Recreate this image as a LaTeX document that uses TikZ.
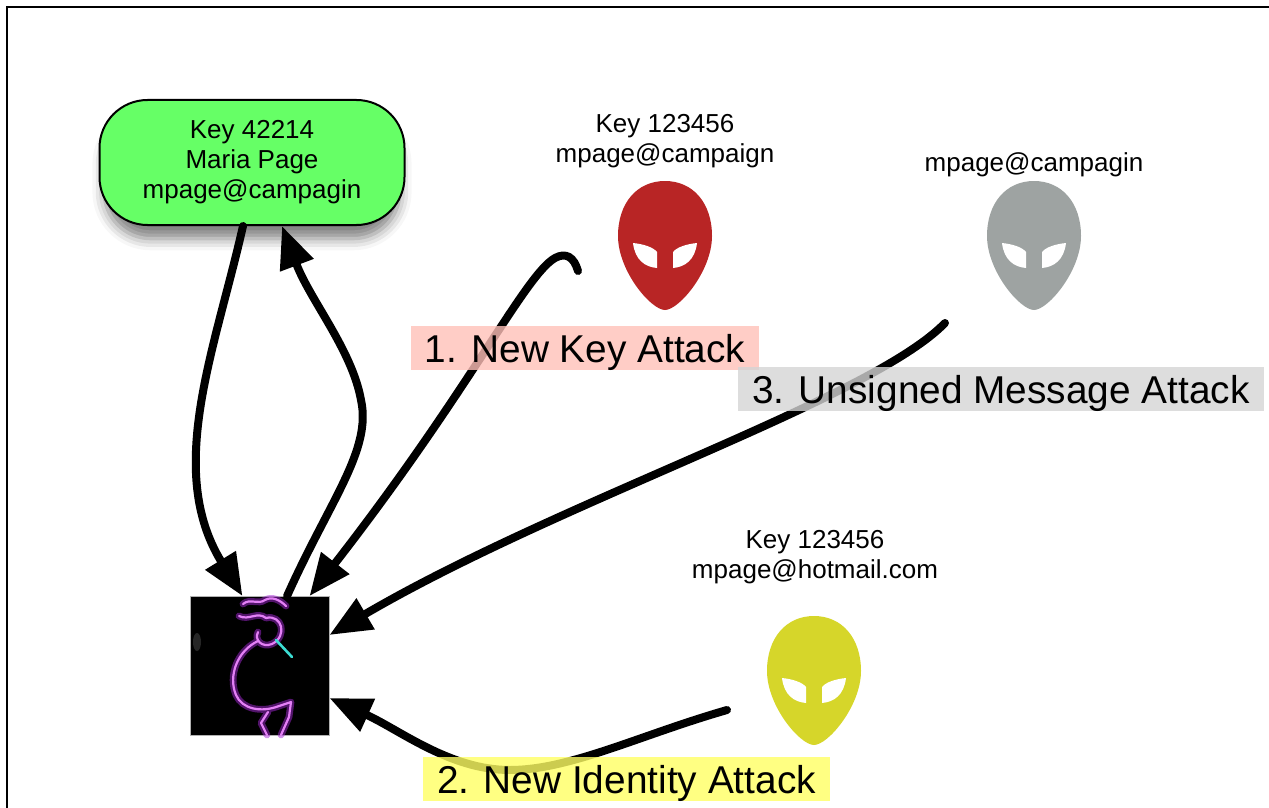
\documentclass[tikz,border=0pt]{standalone}
\usepackage{fontspec}
\setmainfont{Liberation Sans}
\usetikzlibrary{arrows.meta, shadows.blur}

\definecolor{keygreen}{RGB}{102,255,102}
\definecolor{alienred}{RGB}{184,37,37}
\definecolor{aliengrey}{RGB}{158,163,162}
\definecolor{alienyellow}{RGB}{214,214,42}
\definecolor{tagpink}{RGB}{255,192,184}
\definecolor{taggrey}{RGB}{212,212,212}
\definecolor{tagyellow}{RGB}{255,255,99}
\definecolor{neon}{RGB}{228,128,246}
\definecolor{neonglow}{RGB}{165,40,215}
\definecolor{flute}{RGB}{60,220,210}

% alien head: origin at the top of the skull, y grows downwards
\tikzset{
  pics/alien/.style={code={
    \fill[#1] (0,0) .. controls (28,0) and (47,22) .. (47,55)
      .. controls (47,90) and (14,129) .. (0,129)
      .. controls (-14,129) and (-47,90) .. (-47,55)
      .. controls (-47,22) and (-28,0) .. (0,0) -- cycle;
    \fill[white] (-32,62) .. controls (-22,63) and (-12,66) .. (-8,71) -- (-8,87)
      .. controls (-20,86) and (-30,79) .. (-32,62) -- cycle;
    \fill[white] (32,62) .. controls (22,63) and (12,66) .. (8,71) -- (8,87)
      .. controls (20,86) and (30,79) .. (32,62) -- cycle;
  }}
}

\begin{document}
\begin{tikzpicture}[
  x=0.5pt, y=-0.5pt,
  keytext/.style={font=\fontsize{13}{15}\selectfont, align=center},
  keybox/.style={keytext, draw=black, line width=1pt, fill=keygreen,
    rounded corners=24pt, minimum width=152.5pt, minimum height=62.5pt,
    blur shadow={shadow xshift=0pt, shadow yshift=-8pt, shadow scale=0.97,
      shadow blur radius=6pt, shadow opacity=50}},
  flow/.style={draw=black, line width=4pt, line cap=round, -{Triangle[length=21pt, width=17pt]}},
  attack/.style={font=\fontsize{19.4}{23}\selectfont, inner xsep=7pt, inner ysep=0pt,
    text height=18pt, text depth=4pt, fill opacity=0.8, text opacity=1}
]
\useasboundingbox (0,0) rectangle (1269,808);

% slide frame
\draw[line width=0.75pt] (7,808) -- (7,7) -- (1269,7);

%--------------------------------------------------------------
% Maria's key and her mail client
%--------------------------------------------------------------
\node[keybox] (maria) at (252,162.5) {Key 42214\\ Maria Page\\ mpage@campagin};

\node[fill=black, draw=black!30, line width=0.4pt, minimum size=69.5pt, inner sep=0pt] (koko) at (259.5,666) {};

% neon figure inside the picture
\fill[white, opacity=0.15] (197,642) ellipse (4 and 9);
\foreach \w/\c/\o in {3.4pt/neonglow/0.5, 1.1pt/neon/1}{
  \draw[line width=\w, draw=\c, opacity=\o, line cap=round, line join=round]
    (243,604) .. controls (250,598) and (258,605) .. (265,600) .. controls (272,596) and (280,600) .. (286,606)
    (239,616) .. controls (249,621) and (257,611) .. (266,618)
    (266,618) .. controls (282,614) and (288,636) .. (272,644) .. controls (262,648) and (254,640) .. (258,632)
    (258,641) .. controls (237,651) and (228,676) .. (236,695) .. controls (242,709) and (261,713) .. (279,706)
    (279,706) -- (291,702) -- (289,717) -- (281,735)
    (268,712) -- (261,723) -- (267,735);
}
\draw[flute, line width=1.3pt, line cap=round] (276,640) -- (292,657);

%--------------------------------------------------------------
% The three impostors
%--------------------------------------------------------------
\pic at (665,181) {alien=alienred};
\pic at (1034,181) {alien=aliengrey};
\pic at (814,616) {alien=alienyellow};

\node[keytext] (redid) at (665,141) {Key 123456\\ mpage@campaign};
\node[keytext, anchor=base] (greyid) at (1034,171) {mpage@campagin};
\node[keytext] (yellowid) at (815,557) {Key 123456\\ mpage@hotmail.com};

\coordinate (redtail) at (578,271);
\coordinate (greytail) at (945,323);
\coordinate (yellowtail) at (727,710);

%--------------------------------------------------------------
% Message flows
%--------------------------------------------------------------
\draw[flow] ([xshift=-4.5pt]maria.south) .. controls (215,350) and (165,470) .. ([xshift=-8.5pt]koko.north);
\draw[flow] ([xshift=13.75pt]koko.north) .. controls (330,500) and (372,450) .. (361,400)
  .. controls (352,350) and (310,300) .. ([xshift=15pt]maria.south);

\draw[flow] (redtail) .. controls (574,257) and (566,252) .. (555,258)
  .. controls (525,275) and (470,390) .. ([xshift=25pt]koko.north);
\draw[flow] (greytail) .. controls (870,400) and (560,500) .. ([yshift=15.5pt]koko.east);
\draw[flow] (yellowtail) .. controls (640,735) and (570,770) .. (510,770)
  .. controls (450,770) and (400,730) .. ([yshift=-16pt]koko.east);

%--------------------------------------------------------------
% Attack labels
%--------------------------------------------------------------
\node[attack, fill=tagpink] (newkey) at (585,348) {1. New Key Attack};
\node[attack, fill=taggrey] (unsigned) at (1001,389) {3. Unsigned Message Attack};
\node[attack, fill=tagyellow] (newid) at (626.5,779) {2. New Identity Attack};

\end{tikzpicture}
\end{document}
